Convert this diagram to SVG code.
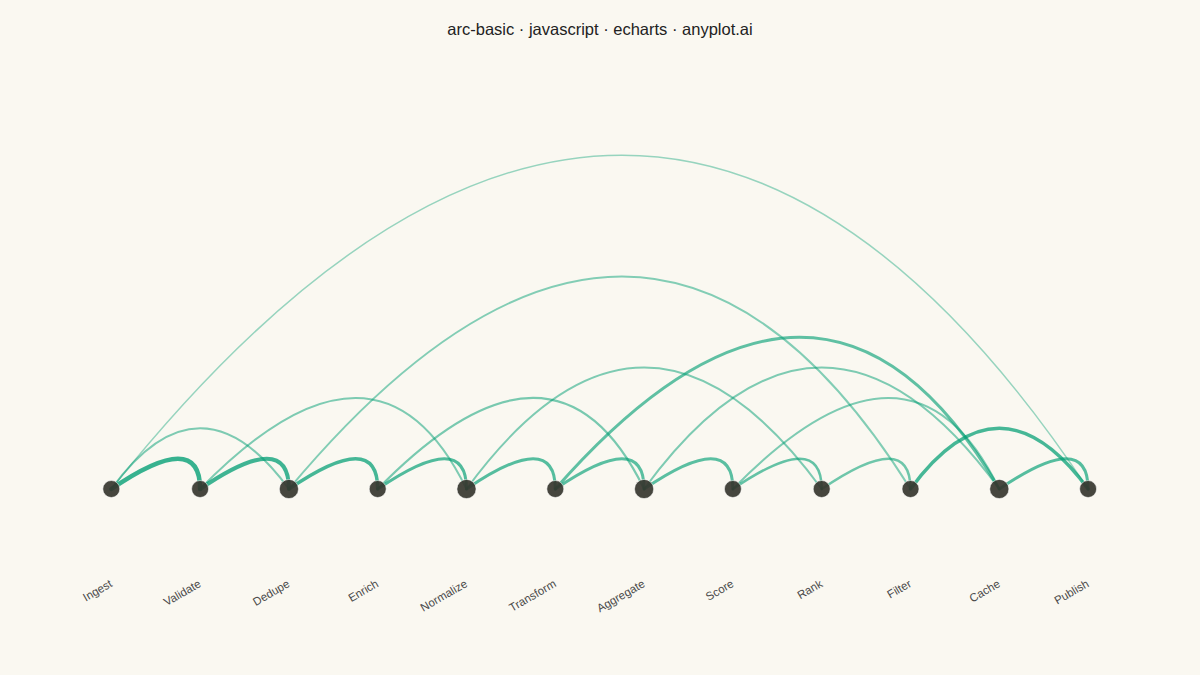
<svg xmlns="http://www.w3.org/2000/svg" width="1200" height="675" viewBox="0 0 1200 675">
<style>
.title{font-family:"Liberation Sans",Arial,sans-serif;font-size:16.5px;fill:#222;text-anchor:middle}
.lbl{font-family:"Liberation Sans",Arial,sans-serif;font-size:11.5px;fill:#4a4a4a;text-anchor:end}
.e{fill:none;stroke:#009E73;stroke-linecap:round}
.n{fill:#36362f;fill-opacity:0.92;stroke:#ffffff;stroke-opacity:0.55;stroke-width:1}
</style>
<rect width="1200" height="675" fill="#faf8f1"/>
<text class="title" x="600" y="35">arc-basic · javascript · echarts · anyplot.ai</text>
<g id="connectors">
<path class="e" d="M111.3,489 Q644.1,-178.7 1088.1,489" stroke-width="1.5" stroke-opacity="0.4"/>
<path class="e" d="M288.9,489 Q644.1,64.1 910.5,489" stroke-width="2" stroke-opacity="0.48"/>
<path class="e" d="M555.3,489 Q821.7,185.5 999.3,489" stroke-width="3" stroke-opacity="0.62"/>
<path class="e" d="M466.5,489 Q644.1,246.2 821.7,489" stroke-width="2" stroke-opacity="0.5"/>
<path class="e" d="M644.1,489 Q821.7,246.2 999.3,489" stroke-width="2" stroke-opacity="0.5"/>
<path class="e" d="M200.1,489 Q377.7,306.9 466.5,489" stroke-width="2" stroke-opacity="0.5"/>
<path class="e" d="M377.7,489 Q555.3,306.9 644.1,489" stroke-width="2.2" stroke-opacity="0.52"/>
<path class="e" d="M732.9,489 Q910.5,306.9 999.3,489" stroke-width="2" stroke-opacity="0.5"/>
<path class="e" d="M111.3,489 Q200.1,367.6 288.9,489" stroke-width="2" stroke-opacity="0.5"/>
<path class="e" d="M910.5,489 Q999.3,367.6 1088.1,489" stroke-width="3.5" stroke-opacity="0.72"/>
<path class="e" d="M111.3,489 Q200.1,428.3 200.1,489" stroke-width="4.5" stroke-opacity="0.78"/>
<path class="e" d="M200.1,489 Q288.9,428.3 288.9,489" stroke-width="4" stroke-opacity="0.75"/>
<path class="e" d="M288.9,489 Q377.7,428.3 377.7,489" stroke-width="3.5" stroke-opacity="0.72"/>
<path class="e" d="M377.7,489 Q466.5,428.3 466.5,489" stroke-width="3" stroke-opacity="0.68"/>
<path class="e" d="M466.5,489 Q555.3,428.3 555.3,489" stroke-width="3" stroke-opacity="0.66"/>
<path class="e" d="M555.3,489 Q644.1,428.3 644.1,489" stroke-width="3" stroke-opacity="0.64"/>
<path class="e" d="M644.1,489 Q732.9,428.3 732.9,489" stroke-width="3" stroke-opacity="0.64"/>
<path class="e" d="M732.9,489 Q821.7,428.3 821.7,489" stroke-width="2.5" stroke-opacity="0.6"/>
<path class="e" d="M821.7,489 Q910.5,428.3 910.5,489" stroke-width="2.5" stroke-opacity="0.56"/>
<path class="e" d="M999.3,489 Q1088.1,428.3 1088.1,489" stroke-width="3" stroke-opacity="0.66"/>
</g>
<g id="node-ingest"><circle class="n" cx="111.3" cy="489" r="8.5"/><text class="lbl" transform="translate(113,586) rotate(-30)">Ingest</text></g>
<g id="node-validate"><circle class="n" cx="200.1" cy="489" r="8.5"/><text class="lbl" transform="translate(201.8,586) rotate(-30)">Validate</text></g>
<g id="node-dedupe"><circle class="n" cx="288.9" cy="489" r="9.6"/><text class="lbl" transform="translate(290.6,586) rotate(-30)">Dedupe</text></g>
<g id="node-enrich"><circle class="n" cx="377.7" cy="489" r="8.5"/><text class="lbl" transform="translate(379.4,586) rotate(-30)">Enrich</text></g>
<g id="node-normalize"><circle class="n" cx="466.5" cy="489" r="9.6"/><text class="lbl" transform="translate(468.2,586) rotate(-30)">Normalize</text></g>
<g id="node-transform"><circle class="n" cx="555.3" cy="489" r="8.5"/><text class="lbl" transform="translate(557,586) rotate(-30)">Transform</text></g>
<g id="node-aggregate"><circle class="n" cx="644.1" cy="489" r="9.6"/><text class="lbl" transform="translate(645.8,586) rotate(-30)">Aggregate</text></g>
<g id="node-score"><circle class="n" cx="732.9" cy="489" r="8.5"/><text class="lbl" transform="translate(734.6,586) rotate(-30)">Score</text></g>
<g id="node-rank"><circle class="n" cx="821.7" cy="489" r="8.5"/><text class="lbl" transform="translate(823.4,586) rotate(-30)">Rank</text></g>
<g id="node-filter"><circle class="n" cx="910.5" cy="489" r="8.5"/><text class="lbl" transform="translate(912.2,586) rotate(-30)">Filter</text></g>
<g id="node-cache"><circle class="n" cx="999.3" cy="489" r="9.6"/><text class="lbl" transform="translate(1001,586) rotate(-30)">Cache</text></g>
<g id="node-publish"><circle class="n" cx="1088.1" cy="489" r="8.5"/><text class="lbl" transform="translate(1089.8,586) rotate(-30)">Publish</text></g>
</svg>
